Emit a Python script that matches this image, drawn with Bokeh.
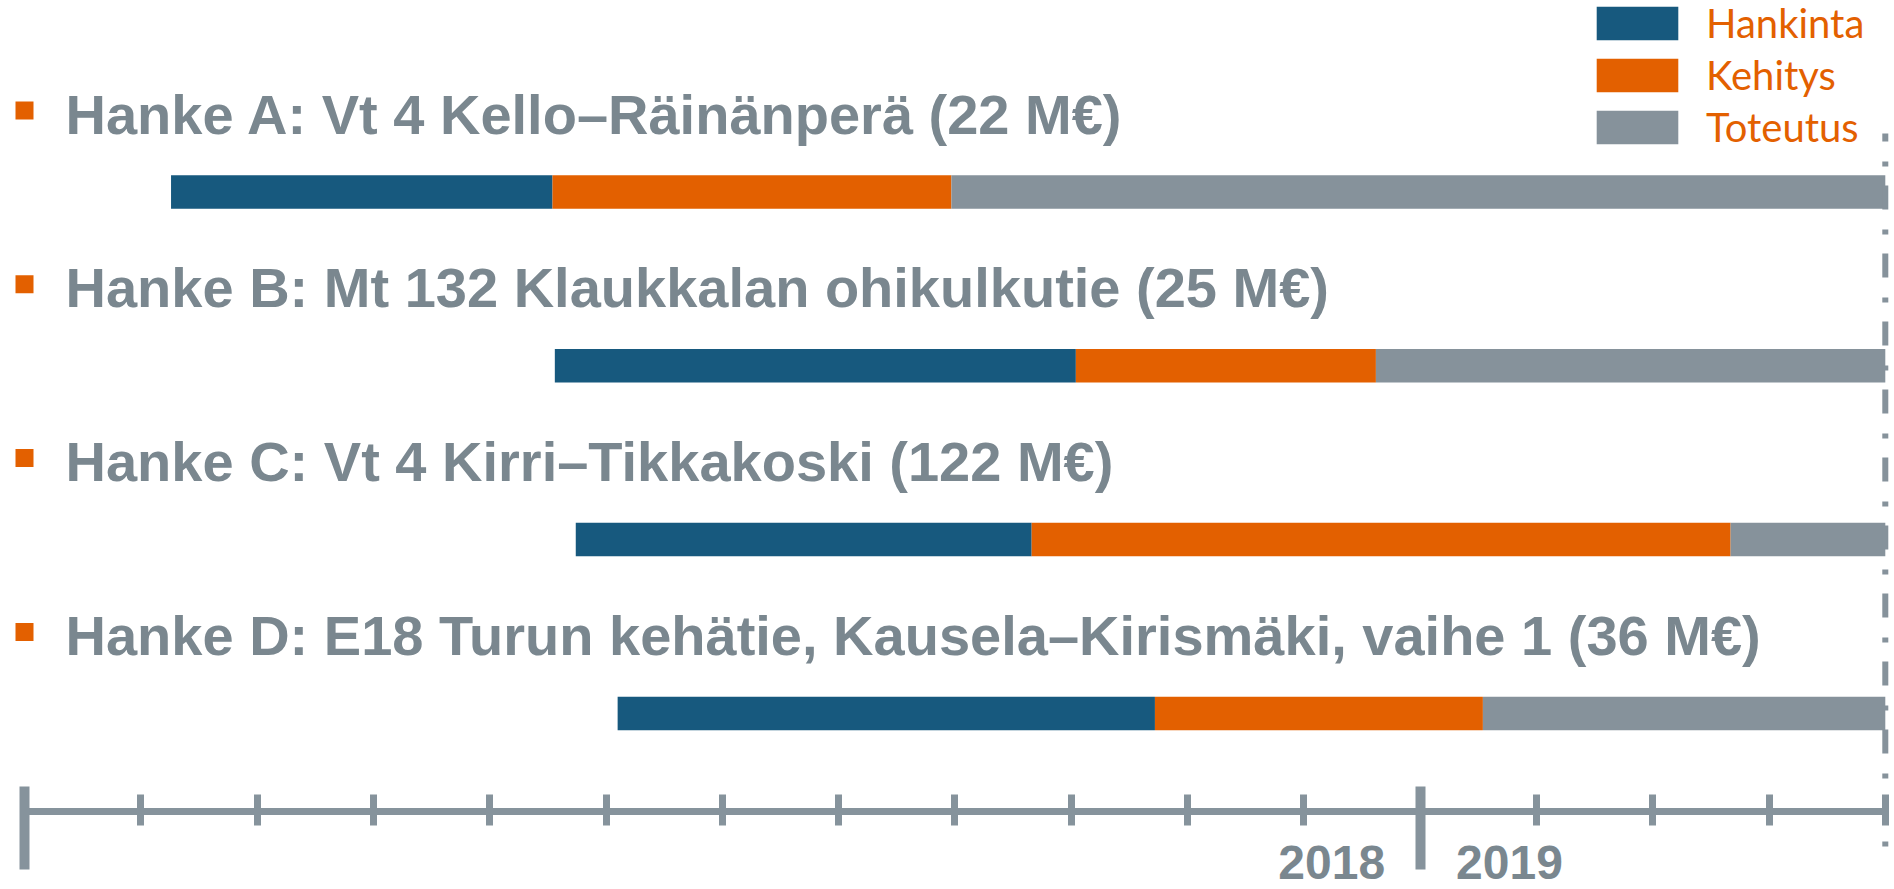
from bokeh.plotting import figure
from bokeh.models import (Range1d, LinearAxis, FixedTicker, Legend, LegendItem,
                          Label, ColumnDataSource)
from bokeh.core.properties import value
from bokeh.embed import file_html
from bokeh.resources import INLINE

# ---------------- data ----------------
projects = [
    "Hanke A: Vt 4 Kello–Räinänperä (22 M€)",
    "Hanke B: Mt 132 Klaukkalan ohikulkutie (25 M€)",
    "Hanke C: Vt 4 Kirri–Tikkakoski (122 M€)",
    "Hanke D: E18 Turun kehätie, Kausela–Kirismäki, vaihe 1 (36 M€)",
]
phases = ["Hankinta", "Kehitys", "Toteutus"]
# phase boundaries in months from the start of the time axis
start_month = [1.26, 4.56, 4.74, 5.10]
hankinta_end = [4.54, 9.04, 8.66, 9.72]
kehitys_end = [7.97, 11.62, 14.67, 12.54]
toteutus_end = [16.0, 16.0, 16.0, 16.0]
month_ticks = list(range(0, 17))
year_starts = [0, 12]
year_labels = ["2018", "2019"]
end_marker_month = 16

# ---------------- styles ----------------
BLUE = "#17597e"
ORANGE = "#e36000"
GRAY = "#86929b"
AXIS_C = "#86939c"
TITLE_C = "#7a878f"

PX_PER_MONTH = 116.3
ROW_PX = 173.8
W, H = 1894, 889
x_start = -24 / PX_PER_MONTH
x_end = x_start + W / PX_PER_MONTH
y_top = -191.5 / ROW_PX
y_bottom = y_top + H / ROW_PX
AXIS_Y = (811 - 191.5) / ROW_PX
BAR_H = 33.5 / ROW_PX

rows = list(range(len(projects)))

p = figure(width=W, height=H, x_range=Range1d(x_start, x_end),
           y_range=Range1d(y_bottom, y_top), output_backend="svg",
           toolbar_location=None, min_border=0, x_axis_type=None,
           y_axis_type=None, outline_line_color=None)

src = ColumnDataSource(dict(row=rows, start=start_month, h_end=hankinta_end,
                            k_end=kehitys_end, t_end=toteutus_end,
                            title=projects, x0=[0] * len(rows),
                            sq_y=[r - 81.5 / ROW_PX for r in rows]))

r_h = p.hbar(y="row", left="start", right="h_end", height=BAR_H, source=src,
             fill_color=BLUE, line_color=None)
r_k = p.hbar(y="row", left="h_end", right="k_end", height=BAR_H, source=src,
             fill_color=ORANGE, line_color=None)
r_t = p.hbar(y="row", left="k_end", right="t_end", height=BAR_H, source=src,
             fill_color=GRAY, line_color=None)

p.text(x="x0", y="row", text="title", source=src, x_offset=41, y_offset=-78,
       text_font=value("Liberation Sans"), text_font_style="bold",
       text_font_size="56px", text_color=TITLE_C, text_baseline="middle",
       text_align="left")
p.scatter(x="x0", y="sq_y", source=src, marker="square", size=18,
          fill_color=ORANGE, line_color=None)

# dashed end marker
p.segment(x0=[end_marker_month], y0=[-58.5 / ROW_PX], x1=[end_marker_month],
          y1=[AXIS_Y + 37 / ROW_PX], line_color=GRAY, line_width=6,
          line_dash="24 20 5 19", line_dash_offset=16)

# time axis
ax = LinearAxis(fixed_location=AXIS_Y,
                ticker=FixedTicker(ticks=year_starts,
                                   minor_ticks=[m for m in month_ticks if m not in year_starts]),
                bounds=(month_ticks[0], month_ticks[-1]),
                axis_line_color=AXIS_C, axis_line_width=7,
                major_tick_line_color=AXIS_C, major_tick_line_width=10,
                major_tick_in=25, major_tick_out=58,
                minor_tick_line_color=AXIS_C, minor_tick_line_width=7,
                minor_tick_in=17, minor_tick_out=14,
                major_label_overrides={m: "" for m in year_starts})
p.add_layout(ax, "below")

for lbl, off, align in [(year_labels[0], -35, "right"), (year_labels[1], 36, "left")]:
    p.add_layout(Label(x=year_starts[1], y=AXIS_Y, x_offset=off, y_offset=-51,
                       text=lbl, text_align=align, text_baseline="middle",
                       text_font="Liberation Sans", text_font_style="bold",
                       text_font_size="48px", text_color=TITLE_C))

legend = Legend(items=[LegendItem(label=phases[0], renderers=[r_h]),
                       LegendItem(label=phases[1], renderers=[r_k]),
                       LegendItem(label=phases[2], renderers=[r_t])],
                location=(1586, 738), orientation="vertical",
                glyph_width=102, glyph_height=42, label_height=49,
                label_standoff=18, spacing=3, padding=0, margin=0,
                border_line_color=None, background_fill_alpha=0,
                label_text_font="Lato", label_text_font_size="40px",
                label_text_color=ORANGE)
p.add_layout(legend)

open("out.html", "w").write(file_html(p, INLINE))
